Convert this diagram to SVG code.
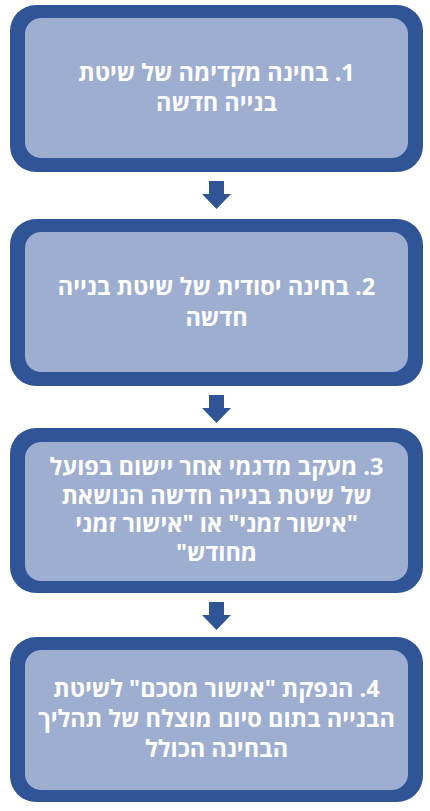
<svg xmlns="http://www.w3.org/2000/svg" width="430" height="811" viewBox="0 0 430 811">
  <style>
    .outer { fill: #2F5597; }
    .inner { fill: #9DAED1; }
    .lbl { font-family: "Open Sans", "Liberation Sans", "DejaVu Sans", sans-serif; font-weight: bold; font-size: 23.5px; fill: #FFFFFF; text-anchor: middle; direction: rtl; }
    .arrow { fill: #2F5597; }
  </style>
  <rect width="430" height="811" fill="#FFFFFF"/>
  <g id="connectors">
    <polygon class="arrow" points="209,181 224,181 224,194 231,194 216.5,209 202,194 209,194"/>
    <polygon class="arrow" points="209,395 224,395 224,408 231,408 216.5,423 202,408 209,408"/>
    <polygon class="arrow" points="209,602 224,602 224,615 231,615 216.5,630 202,615 209,615"/>
  </g>
  <g id="node1">
    <rect class="outer" x="10" y="5" width="413" height="167" rx="26" ry="26"/>
    <rect class="inner" x="25" y="18" width="383" height="140" rx="16" ry="16"/>
    <text class="lbl" direction="rtl"><tspan x="216.5" y="81">1. בחינה מקדימה של שיטת</tspan><tspan x="216.5" y="111">בנייה חדשה</tspan></text>
  </g>
  <g id="node2">
    <rect class="outer" x="10" y="219" width="413" height="167" rx="26" ry="26"/>
    <rect class="inner" x="25" y="232" width="383" height="140" rx="16" ry="16"/>
    <text class="lbl" direction="rtl"><tspan x="216.5" y="295">2. בחינה יסודית של שיטת בנייה</tspan><tspan x="216.5" y="326">חדשה</tspan></text>
  </g>
  <g id="node3">
    <rect class="outer" x="10" y="428" width="413" height="165" rx="26" ry="26"/>
    <rect class="inner" x="25" y="442" width="383" height="139" rx="16" ry="16"/>
    <text class="lbl" direction="rtl"><tspan x="216.5" y="475">3. מעקב מדגמי אחר יישום בפועל</tspan><tspan x="216.5" y="503.5">של שיטת בנייה חדשה הנושאת</tspan><tspan x="216.5" y="532">"אישור זמני" או "אישור זמני</tspan><tspan x="216.5" y="560.5">מחודש"</tspan></text>
  </g>
  <g id="node4">
    <rect class="outer" x="10" y="637" width="413" height="165" rx="26" ry="26"/>
    <rect class="inner" x="25" y="650" width="383" height="140" rx="16" ry="16"/>
    <text class="lbl" direction="rtl"><tspan x="216.5" y="697">4. הנפקת "אישור מסכם" לשיטת</tspan><tspan x="216.5" y="727">הבנייה בתום סיום מוצלח של תהליך</tspan><tspan x="216.5" y="757">הבחינה הכולל</tspan></text>
  </g>
</svg>
